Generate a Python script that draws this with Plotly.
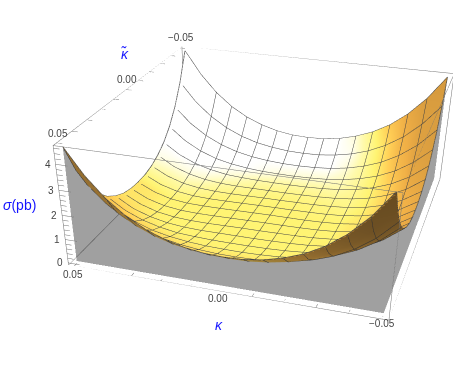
import numpy as np
import plotly.graph_objects as go

# grid values along each axis (mesh lines sit on these)
kappa = [-0.05, -0.04375, -0.0375, -0.03125, -0.025, -0.01875, -0.0125, -0.00625, 0.0,
         0.00625, 0.0125, 0.01875, 0.025, 0.03125, 0.0375, 0.04375, 0.05]
kappa_tilde = list(kappa)

# sigma, one row per kappa_tilde from the middle out to the edge
# (the two kappa_tilde sides look the same, the bowl sits a little towards kappa > 0)
sigma_half = [
    [1.20, 0.73, 0.42, 0.23, 0.13, 0.08, 0.06, 0.06, 0.06, 0.05, 0.04, 0.03, 0.03, 0.05, 0.14, 0.35, 0.70],
    [1.23, 0.75, 0.44, 0.25, 0.14, 0.09, 0.07, 0.06, 0.06, 0.05, 0.04, 0.03, 0.03, 0.06, 0.16, 0.37, 0.73],
    [1.34, 0.84, 0.50, 0.29, 0.17, 0.11, 0.08, 0.07, 0.06, 0.06, 0.05, 0.04, 0.05, 0.10, 0.22, 0.46, 0.84],
    [1.54, 0.99, 0.62, 0.38, 0.23, 0.15, 0.11, 0.09, 0.08, 0.08, 0.08, 0.08, 0.11, 0.19, 0.35, 0.61, 1.05],
    [1.83, 1.23, 0.81, 0.53, 0.34, 0.23, 0.17, 0.14, 0.13, 0.13, 0.14, 0.17, 0.22, 0.35, 0.55, 0.87, 1.36],
    [2.25, 1.58, 1.09, 0.75, 0.53, 0.38, 0.29, 0.25, 0.23, 0.24, 0.26, 0.32, 0.42, 0.58, 0.85, 1.25, 1.83],
    [2.83, 2.06, 1.50, 1.09, 0.81, 0.62, 0.50, 0.44, 0.42, 0.43, 0.48, 0.57, 0.72, 0.96, 1.31, 1.80, 2.49],
    [3.60, 2.72, 2.06, 1.58, 1.23, 0.99, 0.84, 0.75, 0.73, 0.75, 0.83, 0.96, 1.18, 1.50, 1.95, 2.56, 3.40],
    [4.60, 3.60, 2.83, 2.25, 1.83, 1.54, 1.34, 1.23, 1.20, 1.23, 1.34, 1.54, 1.83, 2.25, 2.83, 3.60, 4.60],
]

kappa_ticks = [-0.05, -0.04, -0.03, -0.02, -0.01, 0.0, 0.01, 0.02, 0.03, 0.04, 0.05]
kappa_labels = {-0.05: "\u22120.05", 0.0: "0.00", 0.05: "0.05"}
sigma_ticks = [round(0.2 * i, 1) for i in range(24)]
sigma_labels = [0, 1, 2, 3, 4]

x_lo, x_hi = -0.052, 0.052
z_lo, z_hi = -0.1, 4.7
aspect_z = 0.3888

half = np.array(sigma_half)
sigma = np.vstack([half[:0:-1], half])

# colour follows the surface normal, the way the coloured lights do in the picture
dm = (kappa[1] - kappa[0]) / (x_hi - x_lo)
scale_z = aspect_z / (z_hi - z_lo)
gy, gx = np.gradient(sigma * scale_z, dm)
norm = np.sqrt(gx ** 2 + gy ** 2 + 1)
nx, ny = -gx / norm, -gy / norm
shade = (0.72
         + 1.1 * np.clip(ny, 0, None) * np.clip(1 - 2.0 * np.clip(nx, 0, None), 0, 1)
         + 0.4 * np.clip(ny + 0.2, None, 0)
         - 0.7 * np.clip(nx - 0.12, 0, None)
         + 0.25 * np.clip(nx + 0.2, None, 0))
shade = np.clip(shade, 0, 1)

colorscale = [
    [0.0, "rgb(110,75,20)"],
    [0.25, "rgb(175,125,50)"],
    [0.45, "rgb(240,175,70)"],
    [0.58, "rgb(255,205,85)"],
    [0.72, "rgb(255,244,115)"],
    [0.85, "rgb(255,250,170)"],
    [1.0, "rgb(255,255,255)"],
]
flat = dict(ambient=1, diffuse=0, specular=0, fresnel=0, roughness=1)

fig = go.Figure()

fig.add_trace(go.Surface(
    x=kappa, y=kappa_tilde, z=sigma, surfacecolor=shade,
    colorscale=colorscale, cmin=0, cmax=1, showscale=False,
    lighting=flat, hoverinfo="skip",
    contours=dict(
        x=dict(show=True, start=-0.04375, end=0.04375, size=0.00625, color="#444444", width=1, highlight=False),
        y=dict(show=True, start=-0.04375, end=0.04375, size=0.00625, color="#444444", width=1, highlight=False),
        z=dict(highlight=False),
    ),
))


def wall(xs, ys, tops):
    n = len(xs)
    steps = range(n - 1)
    return go.Mesh3d(
        x=list(xs) * 2, y=list(ys) * 2, z=[0.0] * n + list(tops),
        i=[a for a in steps] + [a + 1 for a in steps],
        j=[a + 1 for a in steps] + [a + n + 1 for a in steps],
        k=[a + n for a in steps] + [a + n for a in steps],
        color="rgb(17,17,17)", opacity=0.4, lighting=flat, hoverinfo="skip", flatshading=True,
    )


# front and right fill down to the floor
fig.add_trace(wall(kappa, [0.05] * 17, sigma[-1, :]))
fig.add_trace(wall([-0.05] * 17, kappa_tilde, sigma[:, 0]))

# outline of the surface
edge_x, edge_y, edge_z = [], [], []
for xs, ys, zs in [(kappa, [0.05] * 17, sigma[-1, :]), (kappa, [-0.05] * 17, sigma[0, :]),
                   ([0.05] * 17, kappa_tilde, sigma[:, -1]), ([-0.05] * 17, kappa_tilde, sigma[:, 0])]:
    edge_x += list(xs) + [None]
    edge_y += list(ys) + [None]
    edge_z += list(zs) + [None]
fig.add_trace(go.Scatter3d(x=edge_x, y=edge_y, z=edge_z, mode="lines",
                           line=dict(color="#444444", width=1.5), hoverinfo="skip"))

# bounding box and ticks
box_x, box_y, box_z = [], [], []


def seg(a, b):
    box_x.extend([a[0], b[0], None])
    box_y.extend([a[1], b[1], None])
    box_z.extend([a[2], b[2], None])


for zv in (z_lo, z_hi):
    seg((x_lo, x_lo, zv), (x_hi, x_lo, zv))
    seg((x_hi, x_lo, zv), (x_hi, x_hi, zv))
    seg((x_hi, x_hi, zv), (x_lo, x_hi, zv))
    seg((x_lo, x_hi, zv), (x_lo, x_lo, zv))
for xv in (x_lo, x_hi):
    for yv in (x_lo, x_hi):
        seg((xv, yv, z_lo), (xv, yv, z_hi))
for t in kappa_ticks:
    seg((t, x_hi, z_lo), (t, x_hi - 0.002, z_lo))
    seg((x_hi, t, z_hi), (x_hi - 0.002, t, z_hi))
for t in sigma_ticks:
    size = 0.004 if t in sigma_labels else 0.002
    seg((x_hi, x_hi, t), (x_hi - size, x_hi, t))
fig.add_trace(go.Scatter3d(x=box_x, y=box_y, z=box_z, mode="lines",
                           line=dict(color="#707070", width=1), hoverinfo="skip"))

tick_font = dict(family="Liberation Sans", size=10, color="#444444")
title_font = dict(family="Liberation Sans", size=14, color="#1414ff")
notes = [
    dict(x=0.05, y=x_hi, z=z_lo, text=kappa_labels[0.05], font=tick_font, xshift=-1, yshift=-8),
    dict(x=0.0, y=x_hi, z=z_lo, text=kappa_labels[0.0], font=tick_font, xshift=-3, yshift=-7),
    dict(x=-0.05, y=x_hi, z=z_lo, text=kappa_labels[-0.05], font=tick_font, xshift=0, yshift=-4),
    dict(x=x_hi, y=0.05, z=z_hi, text=kappa_labels[0.05], font=tick_font, xshift=2, yshift=10),
    dict(x=x_hi, y=0.0, z=z_hi, text=kappa_labels[0.0], font=tick_font, xshift=1, yshift=10),
    dict(x=x_hi, y=-0.05, z=z_hi, text=kappa_labels[-0.05], font=tick_font, xshift=1, yshift=11),
]
for t in sigma_labels:
    notes.append(dict(x=x_hi, y=x_hi, z=t, text=str(t), font=tick_font, xshift=-8, yshift=0))
notes.append(dict(x=0, y=x_hi, z=z_lo, text="<i>\u03ba</i>", font=title_font, xshift=-2, yshift=-34))
notes.append(dict(x=x_hi, y=0, z=z_hi, text="<i>\u03ba\u0303</i>", font=title_font, xshift=-1, yshift=36))
notes.append(dict(x=x_hi, y=x_hi, z=2.4, text="<i>\u03c3</i>(pb)", font=title_font, xshift=-41, yshift=0))
for n in notes:
    n["showarrow"] = False

fig.update_layout(
    width=906, height=742, margin=dict(l=0, r=0, t=0, b=0), showlegend=False,
    paper_bgcolor="white",
    scene=dict(
        domain=dict(x=[0, 1], y=[0, 1]),
        xaxis=dict(visible=False, range=[x_lo, x_hi]),
        yaxis=dict(visible=False, range=[x_lo, x_hi]),
        zaxis=dict(visible=False, range=[z_lo, z_hi]),
        aspectmode="manual", aspectratio=dict(x=1, y=1, z=aspect_z),
        camera=dict(eye=dict(x=-0.7735, y=2.6333, z=1.1781),
                    center=dict(x=-0.0136, y=0.3242, z=-0.5474),
                    up=dict(x=-0.0127, y=-0.0017, z=1)),
        annotations=notes,
    ),
)

# the camera lens is fixed at 45 degrees, so the plot is drawn twice as big and shifted into the window
move = """
document.documentElement.style.overflow = 'hidden';
document.body.style.margin = '0';
document.body.style.overflow = 'hidden';
var gd = document.getElementById('{plot_id}');
gd.style.position = 'absolute';
gd.style.left = '-209px';
gd.style.top = '-14px';
"""
fig.write_html("out.html", post_script=move)
